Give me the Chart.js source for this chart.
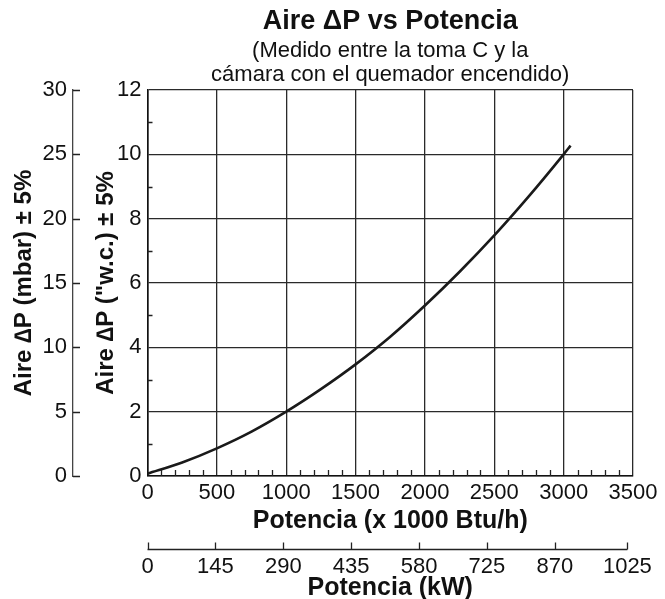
<!DOCTYPE html>
<html>
<head>
<meta charset="utf-8">
<script src="https://cdn.jsdelivr.net/npm/chart.js@4.4.1/dist/chart.umd.min.js"></script>
<style>
  html, body { margin: 0; padding: 0; background: #ffffff; }
  #c { display: block; }
</style>
</head>
<body>
<canvas id="c" width="665" height="599"></canvas>
<script>
// ---- Data ----
const potenciaBtu = [0, 250, 500, 750, 1000, 1250, 1500, 1750, 2000, 2250, 2500, 2750, 3000, 3050]; // x 1000 Btu/h
const aireDpWc   = [0.07, 0.42, 0.86, 1.38, 2.0, 2.7, 3.47, 4.33, 5.3, 6.35, 7.48, 8.7, 10.0, 10.27]; // "w.c.

// ---- Axis ticks ----
const btuMin = 0, btuMax = 3500, btuStep = 500;
const btuMinorTicks = [100,200,300,400,600,700,800,900,1100,1200,1300,1400,1600,1700,1800,1900,
                       2100,2200,2300,2400,2600,2700,2800,2900,3100,3200,3300,3400];
const wcMin = 0, wcMax = 12, wcStep = 2;
const wcMinorTicks = [1, 3, 5, 7, 9, 11];
const mbarMin = 0, mbarMax = 30, mbarStep = 5;
const kwTickValues = [0, 145, 290, 435, 580, 725, 870, 1025];
const kwTickLabels = ['0', '145', '290', '435', '580', '725', '870', '1025'];
const kwAxisMax = 1037;

// ---- Texts ----
const titleText = 'Aire ΔP vs Potencia';
const subtitleLines = ['(Medido entre la toma C y la', 'cámara con el quemador encendido)'];
const xTitle = 'Potencia (x 1000 Btu/h)';
const x2Title = 'Potencia (kW)';
const yTitle = 'Aire ∆P ("w.c.) ± 5%';
const y2Title = 'Aire ∆P (mbar) ± 5%';

const FONT = "'Liberation Sans', Arial, Helvetica, sans-serif";
const TXT = '#111111';
const GRID = '#2a2a2a';
const AXIS = '#111111';

Chart.defaults.font.family = FONT;
Chart.defaults.color = TXT;

const plain = v => String(v);

const extraTicks = {
  id: 'extraTicks',
  afterDraw(chart) {
    const ctx = chart.ctx;
    const ca = chart.chartArea;
    const x = chart.scales.x, y = chart.scales.y, y2 = chart.scales.y2, x2 = chart.scales.x2;
    ctx.save();
    ctx.strokeStyle = '#222222';
    ctx.lineWidth = 1.3;
    ctx.beginPath();
    // minor x ticks (inward, from bottom)
    btuMinorTicks.forEach(v => {
      const px = Math.round(x.getPixelForValue(v)) + 0.5;
      ctx.moveTo(px, ca.bottom); ctx.lineTo(px, ca.bottom - 6);
    });
    // minor y ticks (inward, from left)
    wcMinorTicks.forEach(v => {
      const py = Math.round(y.getPixelForValue(v)) + 0.5;
      ctx.moveTo(ca.left, py); ctx.lineTo(ca.left + 5, py);
    });
    // mbar axis ticks (pointing right)
    y2.ticks.forEach(t => {
      const py = Math.round(y2.getPixelForValue(t.value)) + 0.5;
      ctx.moveTo(y2.right, py); ctx.lineTo(y2.right + 7, py);
    });
    // kW axis line and ticks (pointing up)
    const ky = Math.round(x2.top) + 0.5;
    ctx.moveTo(x2.getPixelForValue(kwTickValues[0]), ky);
    ctx.lineTo(x2.getPixelForValue(kwTickValues[kwTickValues.length - 1]), ky);
    kwTickValues.forEach(v => {
      const px = Math.round(x2.getPixelForValue(v)) + 0.5;
      ctx.moveTo(px, ky); ctx.lineTo(px, ky - 7);
    });
    ctx.stroke();
    ctx.restore();
  }
};

new Chart(document.getElementById('c'), {
  type: 'line',
  data: {
    datasets: [{
      data: potenciaBtu.map((v, i) => ({ x: v, y: aireDpWc[i] })),
      borderColor: '#1a1a1a',
      borderWidth: 2.6,
      pointRadius: 0,
      fill: false,
      cubicInterpolationMode: 'monotone',
      xAxisID: 'x',
      yAxisID: 'y'
    }]
  },
  options: {
    responsive: false,
    devicePixelRatio: 1,
    animation: false,
    layout: { padding: { left: 0, right: 32, top: 0, bottom: 0 } },
    plugins: {
      legend: { display: false },
      tooltip: { enabled: false },
      title: {
        display: true, text: titleText, fullSize: false,
        font: { size: 27, weight: 'bold' }, color: TXT,
        padding: { top: 5, bottom: 0 }
      },
      subtitle: {
        display: true, text: subtitleLines, fullSize: false,
        font: { size: 22, weight: 'normal', lineHeight: 24 / 22 }, color: TXT,
        padding: { top: 1.6, bottom: 3 }
      }
    },
    scales: {
      x: {
        type: 'linear', position: 'bottom', weight: 0,
        min: btuMin, max: btuMax,
        ticks: { stepSize: btuStep, font: { size: 22 }, color: TXT, padding: 4, maxRotation: 0, callback: plain },
        grid: { color: GRID, lineWidth: 1.3, drawTicks: false },
        border: { color: AXIS, width: 1.6 },
        title: { display: true, text: xTitle, font: { size: 25, weight: 'bold' }, color: TXT,
                 padding: { top: 0, bottom: 13 } },
        afterFit: s => { s.height = 73; }
      },
      x2: {
        type: 'linear', position: 'bottom', weight: 1,
        min: 0, max: kwAxisMax,
        afterBuildTicks: s => { s.ticks = kwTickValues.map(v => ({ value: v })); },
        ticks: { font: { size: 22 }, color: TXT, padding: 4.3, maxRotation: 0, autoSkip: false,
                 callback: (v, i) => kwTickLabels[i] },
        grid: { drawOnChartArea: false, drawTicks: false, display: false },
        border: { display: false },
        title: { display: true, text: x2Title, font: { size: 25, weight: 'bold' }, color: TXT,
                 padding: { top: 0, bottom: -4 } },
        afterFit: s => { s.height = 50; }
      },
      y: {
        type: 'linear', position: 'left', weight: 0,
        min: wcMin, max: wcMax,
        ticks: { stepSize: wcStep, font: { size: 22 }, color: TXT, padding: 6, callback: plain },
        grid: { color: GRID, lineWidth: 1.3, drawTicks: false },
        border: { color: AXIS, width: 1.6 },
        title: { display: true, text: yTitle, font: { size: 24, weight: 'bold' }, color: TXT,
                 padding: { top: 19.3, bottom: 0 } },
        afterFit: s => { s.width = 74.5; }
      },
      y2: {
        type: 'linear', position: 'left', weight: 1,
        min: mbarMin, max: mbarMax,
        ticks: { stepSize: mbarStep, font: { size: 22 }, color: TXT, padding: 6, callback: plain },
        grid: { drawOnChartArea: false, drawTicks: false },
        border: { color: '#444444', width: 1.3 },
        title: { display: true, text: y2Title, font: { size: 24, weight: 'bold' }, color: TXT,
                 padding: { top: 9.6, bottom: 0 } },
        afterFit: s => { s.width = 73; }
      }
    }
  },
  plugins: [extraTicks]
});
</script>
</body>
</html>
